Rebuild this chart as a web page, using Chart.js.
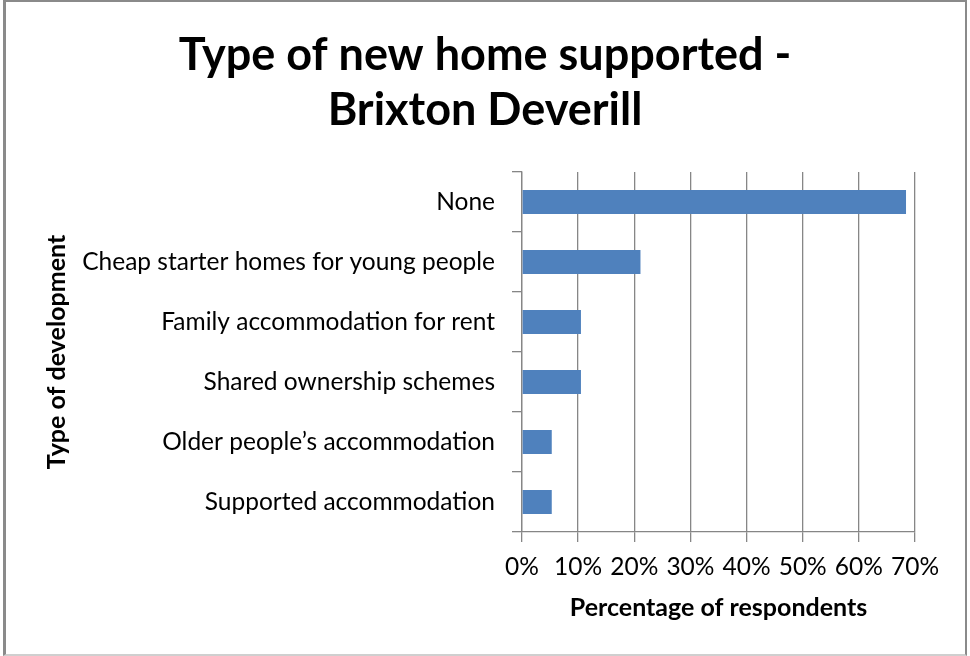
<!DOCTYPE html>
<html>
<head>
<meta charset="utf-8">
<script src="https://cdn.jsdelivr.net/npm/chart.js@4.4.0/dist/chart.umd.min.js"></script>
<style>
  html, body { margin: 0; padding: 0; background: #fff; }
  #wrap { position: relative; width: 970px; height: 656px; }
  #frame {
    position: absolute; left: 3px; top: 0; width: 959px; height: 652px;
    border-left: 3px solid #8a8a8a; border-top: 2px solid #8a8a8a;
    border-right: 2px solid #8a8a8a; border-bottom: 2px solid #cfcfcf;
    pointer-events: none;
  }
</style>
</head>
<body>
<div id="wrap">
  <canvas id="chart" width="970" height="656"></canvas>
  <div id="frame"></div>
</div>
<script>
// data (percent of respondents)
const categories = [
  'None',
  'Cheap starter homes for young people',
  'Family accommodation for rent',
  'Shared ownership schemes',
  'Older people\u2019s accommodation',
  'Supported accommodation'
];
const percentages = [68.4, 21.1, 10.5, 10.5, 5.3, 5.3];
const titleLines = ['Type of new home supported -', 'Brixton Deverill'];
const xTitle = 'Percentage of respondents';
const yTitle = 'Type of development';

const fam = 'Lato, "Open Sans", sans-serif';
const axisGrey = '#868686';

new Chart(document.getElementById('chart'), {
  type: 'bar',
  data: {
    labels: categories,
    datasets: [{
      data: percentages,
      backgroundColor: '#4f81bd',
      borderWidth: 0,
      barPercentage: 0.4,
      categoryPercentage: 1.0
    }]
  },
  options: {
    indexAxis: 'y',
    responsive: false,
    animation: false,
    layout: { padding: { left: 55, right: 55, top: 0, bottom: 32 } },
    plugins: {
      legend: { display: false },
      tooltip: { enabled: false },
      title: {
        display: true,
        text: titleLines,
        color: '#000',
        font: { family: fam, size: 45, weight: 'bold', lineHeight: 1.222 },
        padding: { top: 27.5, bottom: 34.5 }
      }
    },
    scales: {
      x: {
        min: 0, max: 70,
        ticks: { stepSize: 10, color: '#000', padding: 10,
          font: { family: fam, size: 24.5 },
          callback: v => v + '%' },
        grid: { color: axisGrey, lineWidth: 1.3, tickLength: 10 },
        border: { color: axisGrey, width: 1.3 },
        title: { display: true, text: xTitle, color: '#000',
          font: { family: fam, size: 25, weight: 'bold', lineHeight: 1.2 },
          padding: { top: 0, bottom: 1 } },
        afterFit: s => { s.height = 92; }
      },
      y: {
        ticks: { color: '#000', padding: 17, font: { family: fam, size: 24.5 } },
        grid: { drawOnChartArea: false, drawTicks: true, tickLength: 10, color: axisGrey, lineWidth: 1.3 },
        border: { color: axisGrey, width: 1.3 },
        title: { display: true, text: yTitle, color: '#000',
          font: { family: fam, size: 25, weight: 'bold', lineHeight: 1.2 },
          padding: { top: -13, bottom: 0 } },
        afterFit: s => { s.width = 467; }
      }
    }
  }
});
</script>
</body>
</html>
